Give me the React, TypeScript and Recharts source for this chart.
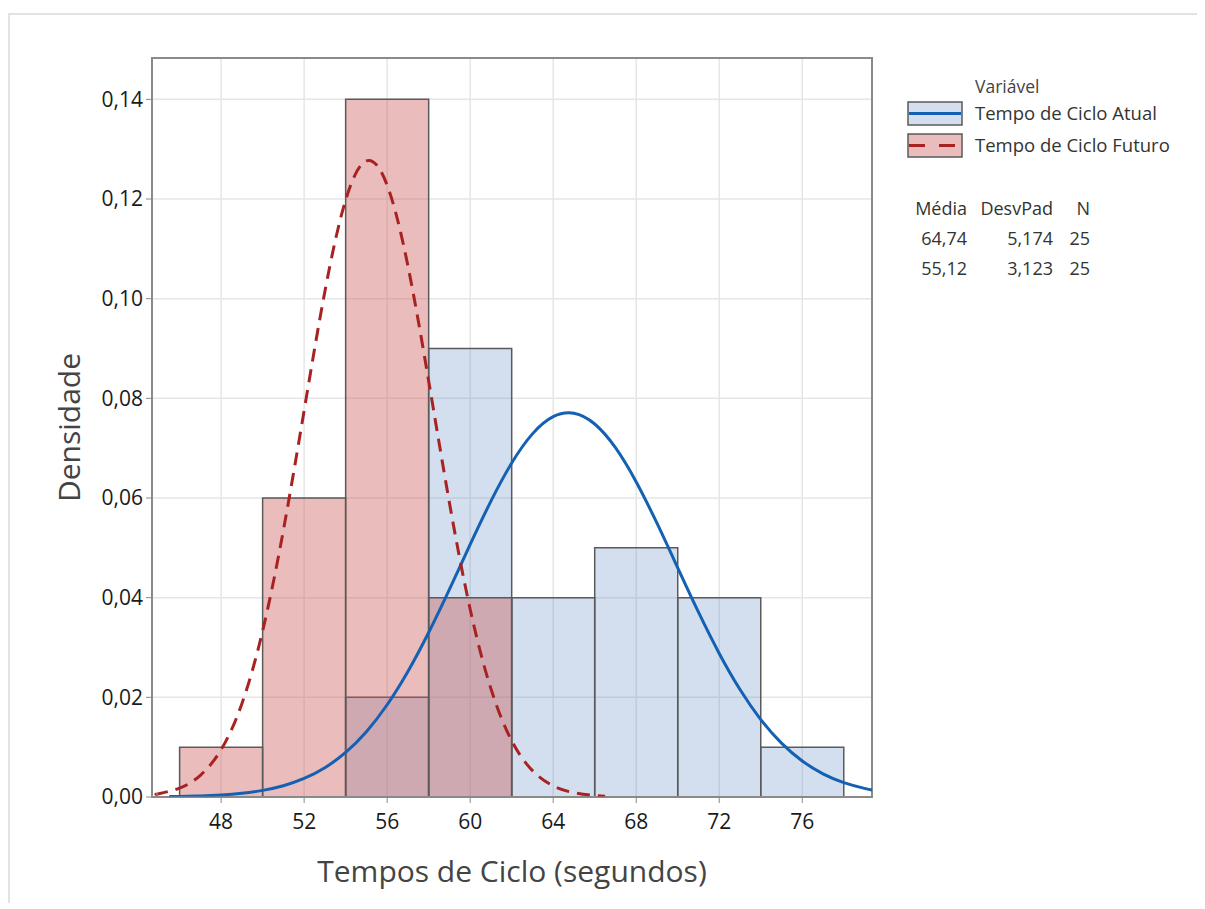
import React from "react";
import {
  ComposedChart,
  Line,
  XAxis,
  YAxis,
  CartesianGrid,
  ReferenceArea,
  Label,
} from "recharts";

// histogram bins (bin start, width 4) and densities
const binWidth = 4;
const atualBinStart = [54, 58, 62, 66, 70, 74];
const atualDensity = [0.02, 0.09, 0.04, 0.05, 0.04, 0.01];
const futuroBinStart = [46, 50, 54, 58];
const futuroDensity = [0.01, 0.06, 0.14, 0.04];

// fitted normal curves
const atualCurveX = [
  45.5, 46, 47, 48, 49, 50, 51, 52, 53, 54, 55, 56, 57, 58, 59, 60, 61, 62,
  63, 64, 65, 66, 67, 68, 69, 70, 71, 72, 73, 74, 75, 76, 77, 78, 79, 79.36,
];
const atualCurveY = [
  0.00008, 0.00011, 0.00022, 0.00041, 0.00075, 0.00133, 0.00227, 0.00372,
  0.00588, 0.00894, 0.01311, 0.01851, 0.02519, 0.03301, 0.04167, 0.05068,
  0.05938, 0.06702, 0.07287, 0.07632, 0.07701, 0.07485, 0.07009, 0.06322,
  0.05494, 0.04599, 0.03709, 0.02881, 0.02156, 0.01554, 0.0108, 0.00722,
  0.00465, 0.00289, 0.00173, 0.00142,
];
const futuroCurveX = [
  44.9, 45, 46, 47, 48, 49, 50, 51, 52, 53, 54, 55, 56, 57, 58, 59, 60, 61,
  62, 63, 64, 65, 66, 66.5,
];
const futuroCurveY = [
  0.0006, 0.00067, 0.0018, 0.00435, 0.0095, 0.01873, 0.03332, 0.05351,
  0.07756, 0.10146, 0.11979, 0.12766, 0.12278, 0.10658, 0.0835, 0.05905,
  0.03768, 0.02171, 0.01128, 0.00529, 0.00224, 0.00086, 0.0003, 0.00017,
];

const xTicks = [48, 52, 56, 60, 64, 68, 72, 76];
const yTicks = [0, 0.02, 0.04, 0.06, 0.08, 0.1, 0.12, 0.14];
const xDomain: [number, number] = [44.67, 79.36];
const yDomain: [number, number] = [0, 0.1483];

const seriesNames = ["Tempo de Ciclo Atual", "Tempo de Ciclo Futuro"];
const statHeader = ["Média", "DesvPad", "N"];
const statRows = [
  ["64,74", "5,174", "25"],
  ["55,12", "3,123", "25"],
];

const FONT = "'Open Sans', 'Noto Sans', sans-serif";
const BLUE_FILL = "rgb(79,129,189)";
const RED_FILL = "rgb(203,88,88)";
const BLUE_LINE = "#1461b3";
const RED_LINE = "#a82222";
const EDGE = "#5a5a5a";

const atualFit = atualCurveX.map((x, i) => ({ x, y: atualCurveY[i] }));
const futuroFit = futuroCurveX.map((x, i) => ({ x, y: futuroCurveY[i] }));

const fmt = (v: number) => v.toFixed(2).replace(".", ",");

function YTitle(props: any) {
  const vb = props.viewBox || { x: 0, y: 50, width: 144, height: 739 };
  const cx = vb.x + 60;
  const cy = vb.y + vb.height / 2;
  return (
    <text
      x={cx}
      y={cy}
      transform={`rotate(-90 ${cx} ${cy})`}
      textAnchor="middle"
      dominantBaseline="central"
      fontSize={30}
      fontFamily={FONT}
      fill="#444"
    >
      Densidade
    </text>
  );
}

export default function App() {
  return (
    <div style={{ position: "relative", width: 1197, height: 895, fontFamily: FONT }}>
      <div
        style={{
          position: "absolute",
          left: 0,
          top: 5,
          width: 1200,
          height: 900,
          borderTop: "2px solid #e2e2e2",
          borderLeft: "2px solid #e2e2e2",
          boxSizing: "border-box",
        }}
      />
      <div style={{ position: "absolute", left: 0, top: 0 }}>
        <ComposedChart
          width={1190}
          height={890}
          margin={{ top: 50, right: 326, bottom: 0, left: 0 }}
        >
          <CartesianGrid stroke="#e6e6e6" strokeWidth={1.5} />
          <XAxis
            dataKey="x"
            type="number"
            domain={xDomain}
            ticks={xTicks}
            allowDataOverflow
            height={101}
            tickSize={6}
            tickMargin={11}
            stroke="#8a8a8a"
            tick={{ fontSize: 21, fill: "#1a1a1a", fontFamily: FONT }}
          >
            <Label
              value="Tempos de Ciclo (segundos)"
              position="insideBottom"
              offset={16}
              fontSize={30}
              fill="#444"
              fontFamily={FONT}
            />
          </XAxis>
          <YAxis
            type="number"
            domain={yDomain}
            ticks={yTicks}
            allowDataOverflow
            width={144}
            tickSize={6}
            tickMargin={3}
            stroke="#8a8a8a"
            tickFormatter={fmt}
            tick={{ fontSize: 21, fill: "#1a1a1a", fontFamily: FONT }}
            label={<YTitle />}
          />
          {atualBinStart.map((x0, i) => (
            <ReferenceArea
              key={"a" + i}
              x1={x0}
              x2={x0 + binWidth}
              y1={0}
              y2={atualDensity[i]}
              fill={BLUE_FILL}
              fillOpacity={0.25}
              stroke={EDGE}
              strokeOpacity={1}
              strokeWidth={1.5}
            />
          ))}
          {futuroBinStart.map((x0, i) => (
            <ReferenceArea
              key={"f" + i}
              x1={x0}
              x2={x0 + binWidth}
              y1={0}
              y2={futuroDensity[i]}
              fill={RED_FILL}
              fillOpacity={0.4}
              stroke={EDGE}
              strokeOpacity={1}
              strokeWidth={1.5}
            />
          ))}
          <ReferenceArea
            x1={xDomain[0]}
            x2={xDomain[1]}
            y1={yDomain[0]}
            y2={yDomain[1]}
            fill="none"
            stroke="#8a8a8a"
            strokeOpacity={1}
            strokeWidth={2}
          />
          <Line
            data={atualFit}
            dataKey="y"
            type="natural"
            stroke={BLUE_LINE}
            strokeWidth={3}
            dot={false}
            isAnimationActive={false}
          />
          <Line
            data={futuroFit}
            dataKey="y"
            type="natural"
            stroke={RED_LINE}
            strokeWidth={3}
            strokeDasharray="13 8"
            dot={false}
            isAnimationActive={false}
          />
        </ComposedChart>
      </div>

      {/* legend */}
      <div style={{ position: "absolute", left: 967, top: 68, fontSize: 17.5, lineHeight: "20px", color: "#444" }}>
        Variável
      </div>
      {seriesNames.map((name, i) => (
        <React.Fragment key={name}>
          <svg
            width={56}
            height={25}
            style={{ position: "absolute", left: 899, top: 93 + i * 32 }}
          >
            <rect
              x={1}
              y={1}
              width={54}
              height={23}
              fill={i === 0 ? BLUE_FILL : RED_FILL}
              fillOpacity={i === 0 ? 0.25 : 0.4}
              stroke={EDGE}
              strokeWidth={1.5}
            />
            <line
              x1={2}
              x2={54}
              y1={12.5}
              y2={12.5}
              stroke={i === 0 ? BLUE_LINE : RED_LINE}
              strokeWidth={3}
              strokeDasharray={i === 0 ? undefined : "16 14"}
            />
          </svg>
          <div
            style={{
              position: "absolute",
              left: 967,
              top: 95 + i * 32,
              fontSize: 18.5,
              lineHeight: "20px",
              color: "#333",
              whiteSpace: "nowrap",
            }}
          >
            {name}
          </div>
        </React.Fragment>
      ))}
      {[statHeader, ...statRows].map((row, r) => (
        <div
          key={r}
          style={{
            position: "absolute",
            left: 890,
            top: 190 + r * 30,
            height: 20,
            fontSize: 18,
            lineHeight: "20px",
            color: "#333",
            whiteSpace: "nowrap",
          }}
        >
          <span style={{ position: "absolute", right: -69, textAlign: "right" }}>{row[0]}</span>
          <span style={{ position: "absolute", right: -155, textAlign: "right" }}>{row[1]}</span>
          <span style={{ position: "absolute", right: -192, textAlign: "right" }}>{row[2]}</span>
        </div>
      ))}
    </div>
  );
}
